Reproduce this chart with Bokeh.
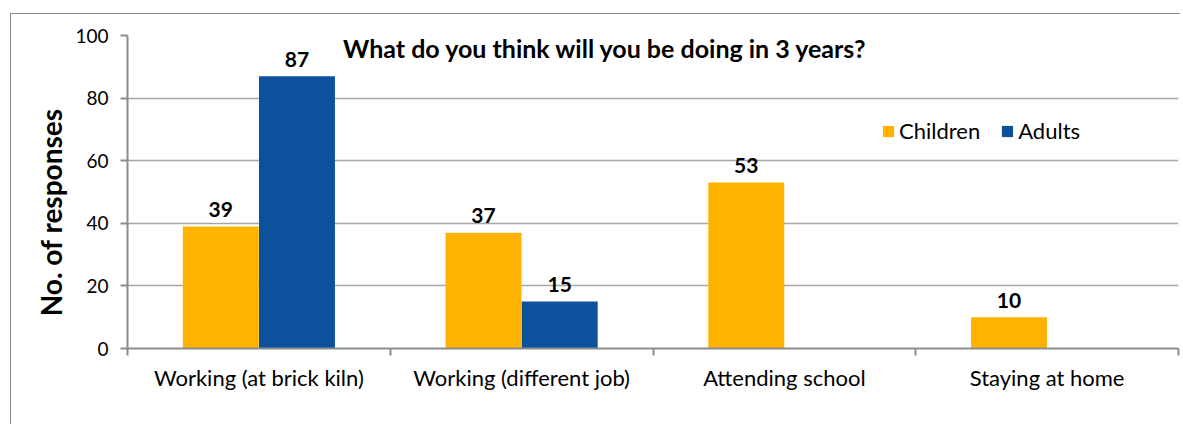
from bokeh.plotting import figure
from bokeh.models import (Range1d, FixedTicker, ColumnDataSource, Legend, LegendItem, Label)
from bokeh.embed import file_html
from bokeh.resources import INLINE
from bokeh.core.properties import value

# ---- data ----
categories = ["Working (at brick kiln)", "Working (different job)", "Attending school", "Staying at home"]
children = [39, 37, 53, 10]
adults = [87, 15, 0, 0]
series_names = ["Children", "Adults"]
y_ticks = [0, 20, 40, 60, 80, 100]
title_text = "What do you think will you be doing in 3 years?"
y_label = "No. of responses"

ORANGE = "#FFB300"
BLUE = "#0B519E"
FONT = "Lato"
GRID = "#a6a6a6"
AXIS = "#8c8c8c"

n = len(categories)
p = figure(width=1170, height=411, x_range=Range1d(0, n), y_range=Range1d(0, 100),
           output_backend="svg", toolbar_location=None,
           min_border_left=116, min_border_right=3, min_border_top=21, min_border_bottom=77)
p.outline_line_color = None
p.background_fill_color = "white"
p.border_fill_color = "white"
p.styles = {"margin-left": "10px", "margin-top": "13px",
            "border-left": "1px solid #8c8c8c", "border-top": "1px solid #8c8c8c"}

centers = [i + 0.5 for i in range(n)]
bw = 0.289
off = 0.145

src_c = ColumnDataSource(dict(x=[c - off for c in centers], top=children))
src_a = ColumnDataSource(dict(x=[c + off for c in centers], top=adults))
rc = p.vbar(x="x", top="top", width=bw, source=src_c, fill_color=ORANGE, line_color=None)
ra = p.vbar(x="x", top="top", width=bw, source=src_a, fill_color=BLUE, line_color=None)

# data labels (non-zero only)
lx, ly, lt = [], [], []
for c, v in zip(centers, children):
    if v:
        lx.append(c - off); ly.append(v); lt.append(str(v))
for c, v in zip(centers, adults):
    if v:
        lx.append(c + off); ly.append(v); lt.append(str(v))
p.text(x=lx, y=ly, text=lt, y_offset=-17, text_align="center", text_baseline="alphabetic",
       text_font=value(FONT), text_font_style="bold", text_font_size="21px", text_color="black")

# axes
xa = p.xaxis[0]
xa.ticker = FixedTicker(ticks=centers, minor_ticks=list(range(n + 1)))
xa.major_label_overrides = {c: lab for c, lab in zip(centers, categories)}
xa.major_tick_out = 0
xa.major_tick_in = 0
xa.minor_tick_out = 7
xa.minor_tick_in = 0
xa.minor_tick_line_color = AXIS
xa.minor_tick_line_width = 2
xa.axis_line_color = AXIS
xa.axis_line_width = 2
xa.major_label_standoff = 8
xa.major_label_text_font = FONT
xa.major_label_text_font_size = "22px"
xa.major_label_text_color = "black"

ya = p.yaxis[0]
ya.ticker = FixedTicker(ticks=y_ticks, minor_ticks=[])
ya.major_tick_out = 7
ya.major_tick_in = 0
ya.major_tick_line_color = AXIS
ya.major_tick_line_width = 2
ya.axis_line_color = AXIS
ya.axis_line_width = 2
ya.major_label_standoff = 12
ya.major_label_text_font = FONT
ya.major_label_text_font_size = "19px"
ya.major_label_text_color = "black"
# trailing non-breaking spaces nudge the rotated label slightly downward, as in the original
ya.axis_label = y_label + "\u00a0" * 6
ya.axis_label_text_font = FONT
ya.axis_label_text_font_style = "bold"
ya.axis_label_text_font_size = "28px"
ya.axis_label_standoff = 4
ya.axis_label_text_color = "black"

p.xgrid.grid_line_color = None
p.ygrid.grid_line_color = GRID
p.ygrid.grid_line_width = 1.5
p.ygrid.ticker = FixedTicker(ticks=y_ticks[1:])

# title
p.add_layout(Label(x=1.819, y=96.1, text=title_text, text_align="center", text_baseline="alphabetic",
                   text_font=FONT, text_font_style="bold", text_font_size="25px", text_color="black"))

# legend
legend = Legend(items=[LegendItem(label=series_names[0], renderers=[rc]),
                       LegendItem(label=series_names[1], renderers=[ra])],
                location=(754, 204), orientation="horizontal",
                glyph_width=14, glyph_height=14, label_standoff=4, spacing=20,
                padding=0, margin=0, border_line_alpha=0, background_fill_alpha=0,
                label_text_font=FONT, label_text_font_size="22px", label_text_color="black")
p.add_layout(legend)

open("out.html", "w").write(file_html(p, INLINE))
